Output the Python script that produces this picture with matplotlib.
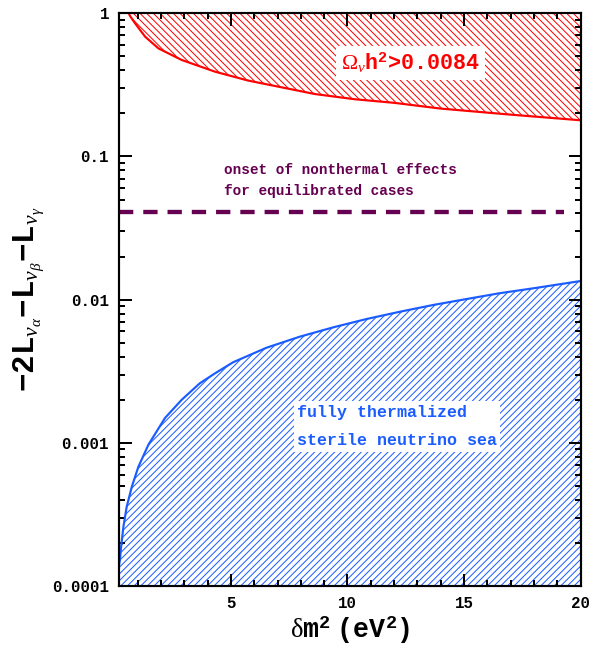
import numpy as np
import matplotlib
matplotlib.use('Agg')
import matplotlib.pyplot as plt

# --- data ---
red_x = [0.62, 0.67, 0.89, 1.32, 1.89, 2.89, 4.32, 5.74, 7.18, 8.60, 10.32,
         12.0, 14.0, 17.0, 20.0]
red_y = [1.0, 0.96, 0.851, 0.687, 0.569, 0.472, 0.391, 0.339, 0.304, 0.273, 0.251,
         0.237, 0.216, 0.196, 0.179]

blue_x = [0.2, 0.24, 0.29, 0.39, 0.53, 0.75, 1.03, 1.46, 2.17, 2.89, 3.67, 4.32,
          5.10, 6.53, 7.96, 9.39, 10.82, 12.25, 13.67, 15.10, 16.53, 17.96, 20.0]
blue_y = [0.00014, 0.000152, 0.000188, 0.00026, 0.000358, 0.000494, 0.00068, 0.00097,
          0.00149, 0.0020, 0.00261, 0.00306, 0.00366, 0.00462, 0.00552, 0.00641,
          0.00733, 0.00824, 0.00918, 0.0101, 0.0111, 0.0120, 0.0135]

onset_level = 0.041
x_ticks = [5, 10, 15, 20]
y_ticks = [0.0001, 0.001, 0.01, 0.1, 1]
y_ticklabels = ['0.0001', '0.001', '0.01', '0.1', '1']

red = '#ff0000'
blue = '#1a5cff'
purple = '#660050'

plt.rcParams['hatch.linewidth'] = 0.6
plt.rcParams['mathtext.fontset'] = 'custom'
plt.rcParams['mathtext.rm'] = 'Liberation Mono:bold'
plt.rcParams['mathtext.bf'] = 'Liberation Mono:bold'
plt.rcParams['mathtext.it'] = 'Liberation Serif:italic'
plt.rcParams['mathtext.sf'] = 'Liberation Serif'
mono = 'Liberation Mono'

dpi = 120
fig = plt.figure(figsize=(598 / dpi, 649 / dpi), dpi=dpi)
ax = fig.add_axes([0.199, 0.097, 0.772, 0.8825])

# red excluded region (hatched above the curve)
ax.fill_between(red_x, red_y, 1.0, facecolor='none', edgecolor=red,
                hatch=r'\\\\\\', linewidth=0)
ax.plot(red_x, red_y, color=red, lw=1.3)

# blue thermalized region (hatched below the curve)
ax.fill_between(blue_x, 1e-4, blue_y, facecolor='none', edgecolor=blue,
                hatch='//////', linewidth=0)
ax.plot(blue_x, blue_y, color=blue, lw=1.3)

# onset of nonthermal effects
ax.plot([0.2, 19.3], [onset_level, onset_level], color=purple, lw=2.6, dashes=(3.3, 2.3))

ax.set_yscale('log')
ax.set_xlim(0.2, 20)
ax.set_ylim(1e-4, 1)

ax.set_xticks(x_ticks)
ax.set_xticklabels([str(t) for t in x_ticks])
ax.set_xticks(np.arange(1, 20), minor=True)
ax.set_yticks(y_ticks)
ax.set_yticklabels(y_ticklabels)

for lab in ax.get_xticklabels() + ax.get_yticklabels():
    lab.set_fontfamily(mono)
    lab.set_fontweight('bold')
    lab.set_fontsize(9.5)

ax.tick_params(which='both', direction='in', top=True, right=True, width=1.2)
ax.tick_params(which='major', length=7.5, pad=6)
ax.tick_params(which='minor', length=3.5)
ax.tick_params(axis='y', which='minor', labelleft=False)
for s in ax.spines.values():
    s.set_linewidth(1.3)

ax.set_xlabel(r'$\mathsf{\delta}\mathbf{m}^{\mathbf{2}}\ \mathbf{(eV}^{\mathbf{2}}\mathbf{)}$',
              fontsize=16, labelpad=2)
ax.set_ylabel(r'$\mathbf{-2L}_{\nu_{\alpha}}\mathbf{-L}_{\nu_{\beta}}\mathbf{-L}_{\nu_{\gamma}}$',
              fontsize=18.5, labelpad=3)

# annotations
ax.text(12.7, 0.45, r'$\mathsf{\Omega}_{\nu}$h$^{\mathbf{2}}$>0.0084', color=red,
        fontsize=13, fontfamily=mono, fontweight='bold', ha='center', va='center',
        bbox=dict(facecolor='white', edgecolor='none', pad=3))
ax.text(4.7, 0.068, 'onset of nonthermal effects\nfor equilibrated cases', color=purple,
        fontsize=8.6, fontfamily=mono, fontweight='bold', ha='left', va='center',
        linespacing=1.65)
ax.text(7.83, 0.0013, 'fully thermalized\nsterile neutrino sea', color=blue,
        fontsize=10, fontfamily=mono, fontweight='bold', ha='left', va='center',
        linespacing=2.15, bbox=dict(facecolor='white', edgecolor='none', pad=2))

fig.savefig('out.png', dpi=dpi)
